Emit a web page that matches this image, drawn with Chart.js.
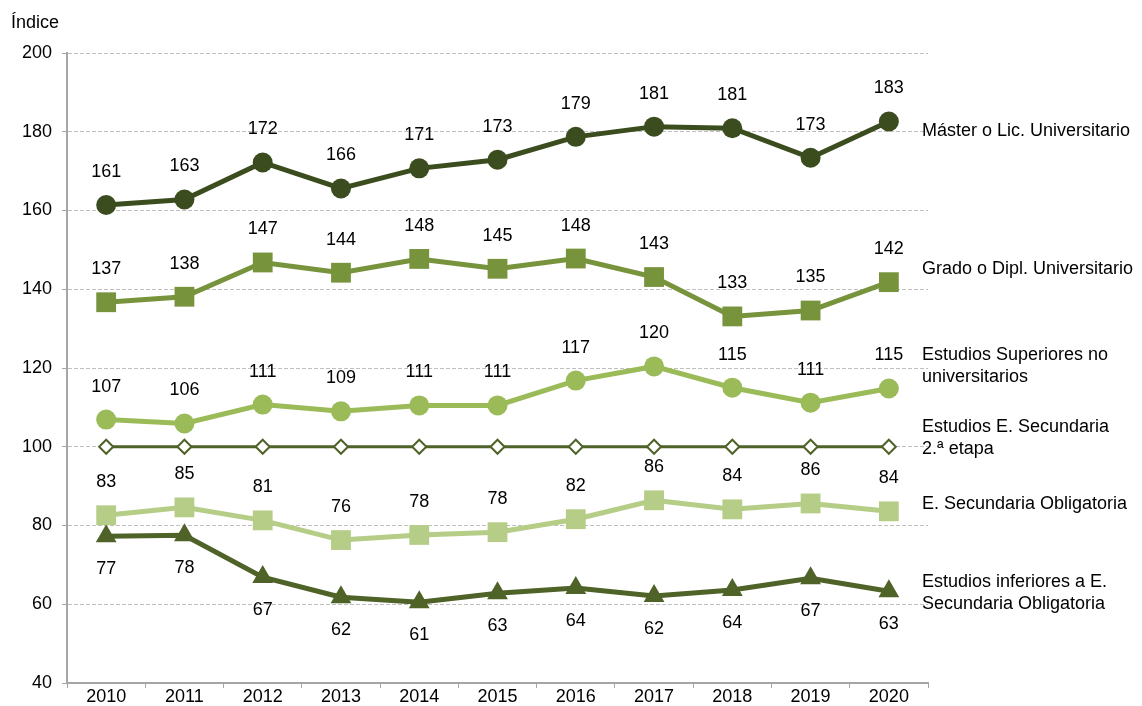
<!DOCTYPE html>
<html>
<head>
<meta charset="utf-8">
<script src="https://cdn.jsdelivr.net/npm/chart.js@4/dist/chart.umd.min.js"></script>
<style>
  html, body { margin: 0; padding: 0; background: #fff; }
  #wrap { width: 1142px; height: 706px; }
</style>
</head>
<body>
<div id="wrap"><canvas id="chart"></canvas></div>
<script>
const years = ['2010','2011','2012','2013','2014','2015','2016','2017','2018','2019','2020'];
const master = [161.4, 162.8, 172.2, 165.6, 170.7, 172.9, 178.7, 181.3, 180.9, 173.4, 182.6];
const grado = [136.7, 138.1, 146.8, 144.2, 147.7, 145.2, 147.8, 143.1, 133.1, 134.6, 141.8];
const superiores = [106.9, 105.9, 110.7, 109.0, 110.5, 110.5, 116.8, 120.4, 115.0, 111.2, 114.8];
const secundaria2 = [100, 100, 100, 100, 100, 100, 100, 100, 100, 100, 100];
const eso = [82.6, 84.6, 81.3, 76.3, 77.6, 78.3, 81.6, 86.4, 84.1, 85.6, 83.6];
const inferiores = [77.3, 77.5, 66.9, 61.8, 60.5, 62.8, 64.1, 62.1, 63.6, 66.6, 63.3];
const seriesNames = [
    ['Máster o Lic. Universitario'],
    ['Grado o Dipl. Universitario'],
    ['Estudios Superiores no', 'universitarios'],
    ['Estudios E. Secundaria', '2.ª etapa'],
    ['E. Secundaria Obligatoria'],
    ['Estudios inferiores a E.', 'Secundaria Obligatoria']
];

const FONT = '"Liberation Sans", Arial, sans-serif';

// etiquetas de valor y nombres de serie a la derecha
const labelsPlugin = {
    id: 'labels',
    afterDatasetsDraw(chart) {
        const ctx = chart.ctx;
        const y = chart.scales.y;
        ctx.save();
        ctx.font = '18px ' + FONT;
        ctx.fillStyle = '#000';
        chart.data.datasets.forEach((ds, i) => {
            const meta = chart.getDatasetMeta(i);
            if (ds.valueLabels) {
                ctx.textAlign = 'center';
                ctx.textBaseline = 'middle';
                meta.data.forEach((pt, j) => {
                    const off = ds.valueLabels === 'below' ? 33 : -33;
                    ctx.fillText(Math.round(ds.data[j]), pt.x, pt.y + off);
                });
            }
            ctx.textAlign = 'left';
            ctx.textBaseline = 'middle';
            const top = y.getPixelForValue(ds.nameAt);
            ds.names.forEach((line, k) => {
                ctx.fillText(line, chart.chartArea.right - 6, top + k * 22);
            });
        });
        ctx.textAlign = 'left';
        ctx.fillText('Índice', 11, 23);
        ctx.restore();
    }
};

new Chart(document.getElementById('chart'), {
    type: 'line',
    data: {
        labels: years,
        datasets: [
            { data: master, names: seriesNames[0], nameAt: 180.2, valueLabels: 'above',
              borderColor: '#3b4d1f', backgroundColor: '#3b4d1f', borderWidth: 5,
              pointStyle: 'circle', pointRadius: 10, pointBorderWidth: 0 },
            { data: grado, names: seriesNames[1], nameAt: 145.2, valueLabels: 'above',
              borderColor: '#77933c', backgroundColor: '#77933c', borderWidth: 5,
              pointStyle: 'rect', pointRadius: 14, pointBorderWidth: 0 },
            { data: superiores, names: seriesNames[2], nameAt: 123.4, valueLabels: 'above',
              borderColor: '#9bbb59', backgroundColor: '#9bbb59', borderWidth: 5,
              pointStyle: 'circle', pointRadius: 10, pointBorderWidth: 0 },
            { data: secundaria2, names: seriesNames[3], nameAt: 104.9, valueLabels: false,
              borderColor: '#4f6228', backgroundColor: '#ffffff', borderWidth: 3,
              pointStyle: 'rectRot', pointRadius: 7, pointBorderWidth: 2, pointBorderColor: '#4f6228' },
            { data: eso, names: seriesNames[4], nameAt: 85.4, valueLabels: 'above',
              borderColor: '#b5cd86', backgroundColor: '#b5cd86', borderWidth: 5,
              pointStyle: 'rect', pointRadius: 14, pointBorderWidth: 0 },
            { data: inferiores, names: seriesNames[5], nameAt: 65.6, valueLabels: 'below',
              borderColor: '#4f6228', backgroundColor: '#4f6228', borderWidth: 5,
              pointStyle: 'triangle', pointRadius: 12, pointBorderWidth: 0 }
        ]
    },
    options: {
        responsive: true,
        maintainAspectRatio: false,
        animation: false,
        layout: { padding: { left: 12, right: 214, top: 53, bottom: 0 } },
        plugins: { legend: { display: false }, tooltip: { enabled: false } },
        elements: { line: { tension: 0 } },
        scales: {
            x: {
                offset: true,
                grid: { display: true, drawOnChartArea: false, offset: true, tickLength: 5, color: '#a6a6a6' },
                border: { color: '#a6a6a6', width: 2 },
                ticks: { color: '#000', padding: 0, font: { family: FONT, size: 18, lineHeight: 1 } }
            },
            y: {
                min: 40, max: 200,
                ticks: { stepSize: 20, color: '#000', padding: 10, font: { family: FONT, size: 18 } },
                grid: { color: '#c0c0c0', tickColor: '#a6a6a6', tickLength: 5 },
                border: { color: '#a6a6a6', width: 2, dash: [4, 2] }
            }
        }
    },
    plugins: [labelsPlugin]
});
</script>
</body>
</html>
